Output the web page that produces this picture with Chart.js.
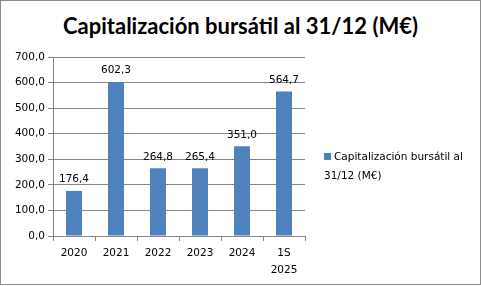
<!DOCTYPE html>
<html>
<head>
<meta charset="utf-8">
<script src="https://cdn.jsdelivr.net/npm/chart.js@4.4.1/dist/chart.umd.min.js"></script>
<style>
  body { margin: 0; background: #fff; }
  #wrap { position: relative; width: 481px; height: 286px; }
  #frame { position: absolute; left: 0; top: 0; width: 479px; height: 283px; border: 1px solid #8c8c8c; }
  #title { position: absolute; left: 0; top: 12px; width: 481px; text-align: center;
    font: bold 22px Lato, "Open Sans", sans-serif; color: #000; }
  #legend { position: absolute; left: 324px; top: 147px; font: 10.5px "DejaVu Sans", sans-serif; color: #000; line-height: 19px; }
  #legend .sw { display: inline-block; width: 7px; height: 7px; background: #4f81bd; margin-right: 3px; }
  canvas { position: absolute; left: 0; top: 0; }
</style>
</head>
<body>
<div id="wrap">
  <div id="frame"></div>
  <div id="title">Capitalización bursátil al 31/12 (M€)</div>
  <canvas id="chart" width="481" height="286"></canvas>
  <div id="legend"><span class="sw"></span>Capitalización bursátil al<br>31/12 (M€)</div>
</div>
<script>
const categories = ['2020', '2021', '2022', '2023', '2024', ['1S', '2025']]
const capitalizacion = [176.4, 602.3, 264.8, 265.4, 351.0, 564.7]
const yTicks = [0, 100, 200, 300, 400, 500, 600, 700]

const fmt = v => v.toFixed(1).replace('.', ',')

const valueLabels = {
	id: 'valueLabels',
	afterDatasetsDraw(chart) {
		const ctx = chart.ctx
		const meta = chart.getDatasetMeta(0)
		ctx.save()
		ctx.font = '10.5px "DejaVu Sans", sans-serif'
		ctx.fillStyle = '#000'
		ctx.textAlign = 'center'
		ctx.textBaseline = 'bottom'
		meta.data.forEach((bar, i) => {
			ctx.fillText(fmt(capitalizacion[i]), bar.x, bar.y - 6)
		})
		ctx.restore()
	}
}

const ctx = document.getElementById('chart')
new Chart(ctx, {
	type: 'bar',
	data: {
		labels: categories,
		datasets: [{
			label: 'Capitalización bursátil al 31/12 (M€)',
			data: capitalizacion,
			backgroundColor: '#4f81bd',
			barPercentage: 0.76,
			categoryPercentage: 0.5
		}]
	},
	options: {
		responsive: false,
		animation: false,
		layout: { padding: { top: 57, right: 176, bottom: 0, left: 0 } },
		plugins: {
			legend: { display: false },
			tooltip: { enabled: false },
			title: { display: false }
		},
		scales: {
			x: {
				offset: true,
				grid: { offset: true, drawOnChartArea: false, drawTicks: true, tickLength: 5, color: '#868686' },
				border: { color: '#868686' },
				ticks: { color: '#000', font: { family: '"DejaVu Sans"', size: 10.5, lineHeight: 1.6 }, padding: 4, maxRotation: 0, autoSkip: false },
				afterFit(scale) { scale.height = 50 }
			},
			y: {
				min: 0,
				max: 700,
				afterBuildTicks(scale) { scale.ticks = yTicks.map(v => ({ value: v })) },
				grid: { color: '#868686', tickLength: 5 },
				border: { color: '#868686' },
				ticks: { color: '#000', font: { family: '"DejaVu Sans"', size: 10.5 }, padding: 3, callback: v => fmt(v) },
				afterFit(scale) { scale.width = 53 }
			}
		}
	},
	plugins: [valueLabels]
})
</script>
</body>
</html>
